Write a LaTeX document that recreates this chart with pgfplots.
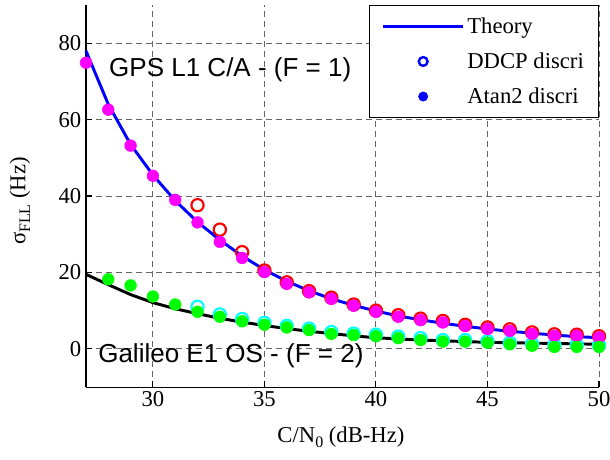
\documentclass[border=0pt]{standalone}
\usepackage{fontspec}
\setmainfont{Liberation Serif}
\newfontfamily\tnr{Liberation Serif}
\newfontfamily\arial{Liberation Sans}
\usepackage{pgfplots}
\pgfplotsset{compat=1.18}
\definecolor{mmag}{RGB}{255,0,255}
\definecolor{mcyan}{RGB}{0,255,255}
\definecolor{mgreen}{RGB}{0,255,0}
\definecolor{mred}{RGB}{255,0,0}
\definecolor{mblue}{RGB}{0,0,255}
\pgfplotsset{
 myline legend/.style={legend image code/.code={\draw[##1] (0pt,0pt) -- (60pt,0pt);}},
 mymark legend/.style={legend image code/.code={\draw[mark repeat=2,mark phase=2,##1] plot coordinates {(0pt,0pt) (30pt,0pt) (60pt,0pt)};}},
}
\begin{document}
\begin{tikzpicture}
\begin{axis}[
 scale only axis, width=384.75pt, height=286.5pt,
 xmin=27, xmax=50, ymin=-10, ymax=90,
 xtick={30,35,40,45,50}, ytick={0,20,40,60,80},
 xticklabels={\mbox{\tnr 30},\mbox{\tnr 35},\mbox{\tnr 40},\mbox{\tnr 45},\mbox{\tnr 50}},
 yticklabels={\mbox{\tnr 0},\mbox{\tnr 20},\mbox{\tnr 40},\mbox{\tnr 60},\mbox{\tnr 80}},
 axis lines*=left, axis line style={-, black, line width=0.8pt},
 tick align=inside, major tick length=4.5pt, tick style={black, line width=0.8pt},
 grid=major, major grid style={black!60, line width=0.7pt, dash pattern=on 4.5pt off 3pt},
 tick label style={font=\tnr\fontsize{17}{20}\selectfont},
 xlabel={C/N\raisebox{-0.55ex}{\fontsize{12}{12}\selectfont 0} (dB-Hz)},
 ylabel={σ\raisebox{-0.45ex}{\fontsize{12}{12}\selectfont FLL} (Hz)},
 label style={font=\fontsize{17}{20}\selectfont},
 xlabel style={at={(rel axis cs:0.497,-0.131)}, anchor=center},
 ylabel style={at={(rel axis cs:-0.1287,0.487)}, anchor=center},
 clip=false,
 legend style={at={(1,1)}, anchor=north east, draw=black, line width=0.8pt, fill=white,
   font=\fontsize{17}{20}\selectfont, row sep=9pt, inner xsep=9pt, inner ysep=7pt,
   cells={anchor=west}},
]
\addlegendimage{mblue, line width=2.2pt, myline legend}
\addlegendimage{only marks, mark=o, mark size=3.3pt, mblue, line width=1.8pt, mymark legend}
\addlegendimage{only marks, mark=*, mark size=3.3pt, mblue, mymark legend}
\legend{Theory, DDCP discri, Atan2 discri}

% GPS theory
\addplot[mblue, line width=2.2pt, forget plot] coordinates {
(27,78) (28,64) (29,53.5) (30,45.5) (31,38.8) (32,33.2) (33,28.5) (34,24.3) (35,20.7) (36,17.7)
(37,15.2) (38,13.1) (39,11.4) (40,9.9) (41,8.6) (42,7.6) (43,6.7) (44,5.9) (45,5.2) (46,4.6)
(47,4.1) (48,3.6) (49,3.2) (50,2.9)};
% Galileo theory
\addplot[black, line width=2.2pt, forget plot] coordinates {
(27,19.5) (28,16.8) (29,14.2) (30,12.1) (31,10.5) (32,9.2) (33,8.0) (34,7.0) (35,6.1) (36,5.3)
(37,4.6) (38,4.0) (39,3.4) (40,2.9) (41,2.6) (42,2.3) (43,2.1) (44,1.9) (45,1.7) (46,1.6)
(47,1.5) (48,1.4) (49,1.3) (50,1.2)};
% GPS DDCP
\addplot[only marks, mark=o, mark size=4.6pt, mred, line width=1.6pt, forget plot] coordinates {
(32,37.6) (33,31.2) (34,25.3) (35,20.5) (36,17.4) (37,15.1) (38,13.4) (39,11.6) (40,10.0)
(41,8.8) (42,7.9) (43,7.3) (44,6.3) (45,5.6) (46,5.1) (47,4.3) (48,3.8) (49,3.7) (50,3.3)};
% Galileo DDCP
\addplot[only marks, mark=o, mark size=4.6pt, mcyan, line width=1.6pt, forget plot] coordinates {
(32,11.0) (33,9.0) (34,7.8) (35,6.8) (36,6.0) (37,5.3) (38,4.4) (39,4.0) (40,3.7)
(41,3.2) (42,2.8) (43,2.3) (44,2.3) (45,2.0) (46,1.6) (47,1.3) (48,1.0) (49,1.0) (50,0.9)};
% GPS Atan2
\addplot[only marks, mark=*, mark size=4.4pt, mmag, forget plot] coordinates {
(27,74.9) (28,62.6) (29,53.2) (30,45.3) (31,39.0) (32,33.1) (33,28.0) (34,23.8) (35,20.1) (36,17.0)
(37,14.8) (38,13.1) (39,11.3) (40,9.7) (41,8.4) (42,7.5) (43,6.9) (44,6.0) (45,5.2) (46,4.7)
(47,3.9) (48,3.4) (49,3.4) (50,3.0)};
% Galileo Atan2
\addplot[only marks, mark=*, mark size=4.4pt, mgreen, forget plot] coordinates {
(28,18.2) (29,16.6) (30,13.7) (31,11.6) (32,9.7) (33,8.4) (34,7.2) (35,6.3) (36,5.6)
(37,4.9) (38,3.9) (39,3.6) (40,3.3) (41,2.8) (42,2.3) (43,1.9) (44,1.9) (45,1.6) (46,1.2)
(47,0.8) (48,0.5) (49,0.5) (50,0.5)};

\node[anchor=base west, font=\arial\fontsize{19.5}{22}\selectfont, inner sep=0pt] at (axis cs:28.03,71.2) {GPS L1 C/A - (F = 1)};
\node[anchor=base west, font=\arial\fontsize{19.5}{22}\selectfont, inner sep=0pt] at (axis cs:27.54,-3.6) {Galileo E1 OS - (F = 2)};

\coordinate (bbsw) at (rel axis cs:-0.1676,-0.1885);
\coordinate (bbne) at (rel axis cs:1.0214,1.0131);
\end{axis}
\pgfresetboundingbox
\path (bbsw) rectangle (bbne);
\end{tikzpicture}
\end{document}
